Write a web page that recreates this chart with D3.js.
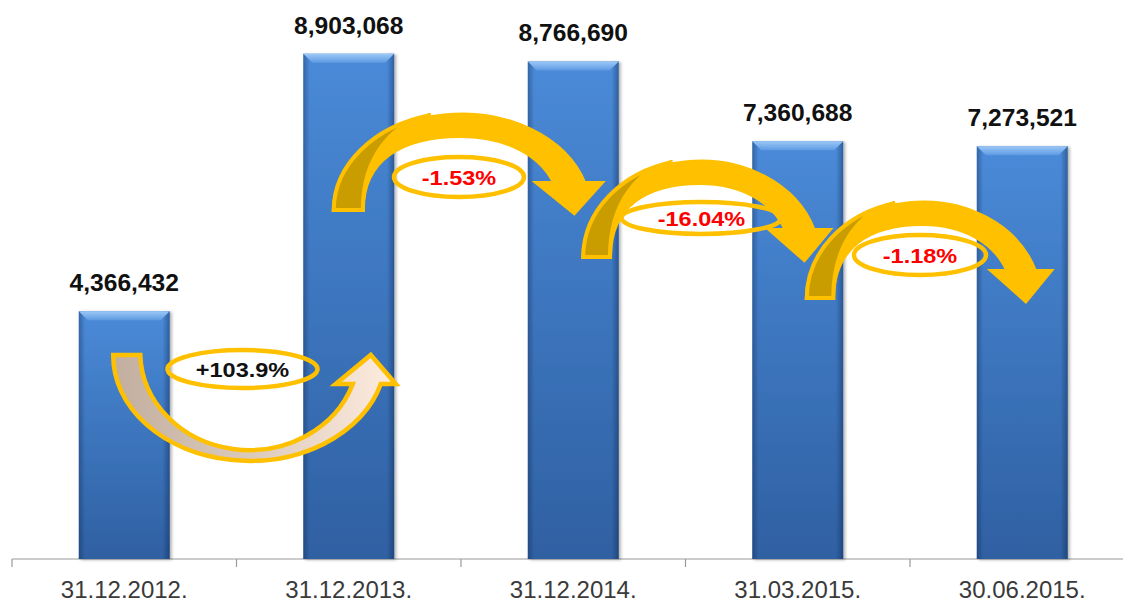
<!DOCTYPE html>
<html>
<head>
<meta charset="utf-8">
<script src="https://cdn.jsdelivr.net/npm/d3@7"></script>
<style>
  body { margin: 0; background: #fff; }
  svg { display: block; }
</style>
</head>
<body>
<svg id="canvas" width="1123" height="604"></svg>
<script>
let dates = ["31.12.2012.", "31.12.2013.", "31.12.2014.", "31.03.2015.", "30.06.2015."]
let values = [4366432, 8903068, 8766690, 7360688, 7273521]
let changes = ["+103.9%", "-1.53%", "-16.04%", "-1.18%"]

let width = 1123
let height = 604

// decoration layout (arrows + ovals between bars)
let arrowTailDx = [-11, -15, 10, 9]
let arrowHeadDx = [17, -4, 2, -1]
let arrowTailY = [355, 210, 257, 298]
let ovalDx = [6, -2, 16, 10]
let ovalY = [369, 177, 218, 255]
let ovalRx = [75, 65, 80, 66]
let ovalRy = [19, 20, 16, 20]

let canvas = d3.select("#canvas")

let xScale = d3.scaleBand()
    .domain(dates)
    .range([12, 1134.5])
    .paddingInner(0.595)
    .paddingOuter(0.2975)

let yScale = d3.scaleLinear()
    .domain([0, 9850000])
    .range([559, 0])

let bw = xScale.bandwidth()
let center = (d) => xScale(d) + bw / 2

let defs = canvas.append("defs")

let vGrad = defs.append("linearGradient").attr("id", "barV").attr("x1", 0).attr("y1", 0).attr("x2", 0).attr("y2", 1)
vGrad.append("stop").attr("offset", "0%").attr("stop-color", "#4a8ad8")
vGrad.append("stop").attr("offset", "100%").attr("stop-color", "#2f60a2")

let hGrad = defs.append("linearGradient").attr("id", "barH").attr("x1", 0).attr("y1", 0).attr("x2", 1).attr("y2", 0)
hGrad.append("stop").attr("offset", "0%").attr("stop-color", "#0a1f45").attr("stop-opacity", 0.35)
hGrad.append("stop").attr("offset", "7%").attr("stop-color", "#0a1f45").attr("stop-opacity", 0)
hGrad.append("stop").attr("offset", "92%").attr("stop-color", "#0a1f45").attr("stop-opacity", 0)
hGrad.append("stop").attr("offset", "100%").attr("stop-color", "#0a1f45").attr("stop-opacity", 0.4)

let bevGrad = defs.append("linearGradient").attr("id", "bevel").attr("x1", 0).attr("y1", 0).attr("x2", 0).attr("y2", 1)
bevGrad.append("stop").attr("offset", "0%").attr("stop-color", "#9cc8f6")
bevGrad.append("stop").attr("offset", "100%").attr("stop-color", "#5d9ae2")

let upGrad = defs.append("linearGradient").attr("id", "upFill").attr("x1", 0).attr("y1", 0).attr("x2", 1).attr("y2", 0)
upGrad.append("stop").attr("offset", "0%").attr("stop-color", "#c2ae9e")
upGrad.append("stop").attr("offset", "45%").attr("stop-color", "#d9c8ba")
upGrad.append("stop").attr("offset", "100%").attr("stop-color", "#feecdf")

let shadow = defs.append("filter").attr("id", "shadow").attr("x", "-10%").attr("y", "-10%").attr("width", "130%").attr("height", "130%")
shadow.append("feDropShadow").attr("dx", 2).attr("dy", 1).attr("stdDeviation", 1.5)
    .attr("flood-color", "#000").attr("flood-opacity", 0.3)

// axis line + band separators
canvas.append("line")
    .attr("x1", 12).attr("x2", width)
    .attr("y1", yScale(0)).attr("y2", yScale(0))
    .attr("stroke", "#9a9a9a").attr("stroke-width", 1.2)

canvas.selectAll(".sep")
    .data(dates)
    .enter()
    .append("line")
    .attr("class", "sep")
    .attr("x1", (d) => center(d) - xScale.step() / 2)
    .attr("x2", (d) => center(d) - xScale.step() / 2)
    .attr("y1", yScale(0))
    .attr("y2", yScale(0) + 8)
    .attr("stroke", "#9a9a9a").attr("stroke-width", 1.2)

// bars
let bars = canvas.selectAll(".bar")
    .data(dates)
    .enter()
    .append("g")
    .attr("class", "bar")
    .attr("filter", "url(#shadow)")

bars.append("rect")
    .attr("x", (d) => xScale(d))
    .attr("y", (d, i) => yScale(values[i]))
    .attr("width", bw)
    .attr("height", (d, i) => yScale(0) - yScale(values[i]))
    .attr("fill", "url(#barV)")

bars.append("rect")
    .attr("x", (d) => xScale(d))
    .attr("y", (d, i) => yScale(values[i]))
    .attr("width", bw)
    .attr("height", (d, i) => yScale(0) - yScale(values[i]))
    .attr("fill", "url(#barH)")

bars.append("path")
    .attr("d", (d, i) => {
        let x0 = xScale(d)
        let x1 = x0 + bw
        let y0 = yScale(values[i])
        return "M" + x0 + "," + y0 + "L" + x1 + "," + y0 + "L" + (x1 - 9) + "," + (y0 + 9) +
            "L" + (x0 + 9) + "," + (y0 + 9) + "Z"
    })
    .attr("fill", "url(#bevel)")

// value labels
canvas.selectAll(".value")
    .data(dates)
    .enter()
    .append("text")
    .attr("class", "value")
    .attr("transform", (d, i) => "translate(" + center(d) + "," + (yScale(values[i]) - 20) + ") scale(1.07,1)")
    .attr("text-anchor", "middle")
    .attr("font-family", "Liberation Sans, Arial, sans-serif")
    .attr("font-weight", "bold")
    .attr("font-size", 23)
    .attr("fill", "#111")
    .text((d, i) => d3.format(",")(values[i]))

// x labels
canvas.selectAll(".xlabel")
    .data(dates)
    .enter()
    .append("text")
    .attr("class", "xlabel")
    .attr("x", (d) => center(d))
    .attr("y", 598)
    .attr("text-anchor", "middle")
    .attr("font-family", "Liberation Sans, Arial, sans-serif")
    .attr("font-size", 24)
    .attr("fill", "#3a3a3a")
    .text((d) => d)

// curved arrows
let gold = "#FFC000"

let drawUpArrow = (i) => {
    let tx = center(dates[i]) + arrowTailDx[i]
    let hx = center(dates[i + 1]) + arrowHeadDx[i]
    let sx = (hx - tx) / 252
    let g = canvas.append("g")
        .attr("transform", "translate(" + tx + "," + arrowTailY[i] + ") scale(" + sx + ",1)")
    g.append("path")
        .attr("d", "M0,0 A136,105 0 0 0 267,29 L282,29 L257,0 L222,29 L239,29 A109,98 0 0 1 27,0 Z")
        .attr("fill", "url(#upFill)")
        .attr("stroke", gold)
        .attr("stroke-width", 4.5)
        .attr("stroke-linejoin", "miter")
        .attr("vector-effect", "non-scaling-stroke")
}

let drawDownArrow = (i) => {
    let tx = center(dates[i]) + arrowTailDx[i]
    let hx = center(dates[i + 1]) + arrowHeadDx[i]
    let sx = (hx - tx) / 235
    let g = canvas.append("g")
        .attr("transform", "translate(" + tx + "," + arrowTailY[i] + ") scale(" + sx + ",1)")
    g.append("path")
        .attr("d", "M0,0 A128,98 0 0 1 250,-27 L267,-27 L240,3 L203,-27 L220,-27 " +
            "C207,-55 172,-74 127,-74 C67,-74 29,-50 29,0 Z")
        .attr("fill", gold)
        .attr("stroke", gold)
        .attr("stroke-width", 4)
        .attr("vector-effect", "non-scaling-stroke")
    g.append("path")
        .attr("d", "M0,0 A128,98 0 0 1 97,-95 C60,-88 29,-55 29,0 Z")
        .attr("fill", "#c99c00")
        .attr("stroke", gold)
        .attr("stroke-width", 4)
        .attr("vector-effect", "non-scaling-stroke")
}

changes.forEach((c, i) => {
    if (c[0] === "+") {
        drawUpArrow(i)
    } else {
        drawDownArrow(i)
    }
})

// ovals with percentage change
let ovals = canvas.selectAll(".oval")
    .data(changes)
    .enter()
    .append("g")
    .attr("class", "oval")

ovals.append("ellipse")
    .attr("cx", (d, i) => (center(dates[i]) + center(dates[i + 1])) / 2 + ovalDx[i])
    .attr("cy", (d, i) => ovalY[i])
    .attr("rx", (d, i) => ovalRx[i])
    .attr("ry", (d, i) => ovalRy[i])
    .attr("fill", "none")
    .attr("stroke", gold)
    .attr("stroke-width", 4.5)

ovals.append("text")
    .attr("transform", (d, i) => "translate(" + ((center(dates[i]) + center(dates[i + 1])) / 2 + ovalDx[i]) +
        "," + (ovalY[i] + 7.5) + ") scale(1.12,1)")
    .attr("text-anchor", "middle")
    .attr("font-family", "Liberation Sans, Arial, sans-serif")
    .attr("font-weight", "bold")
    .attr("font-size", 21)
    .attr("fill", (d) => d[0] === "+" ? "#111" : "#ff0000")
    .text((d) => d)
</script>
</body>
</html>
